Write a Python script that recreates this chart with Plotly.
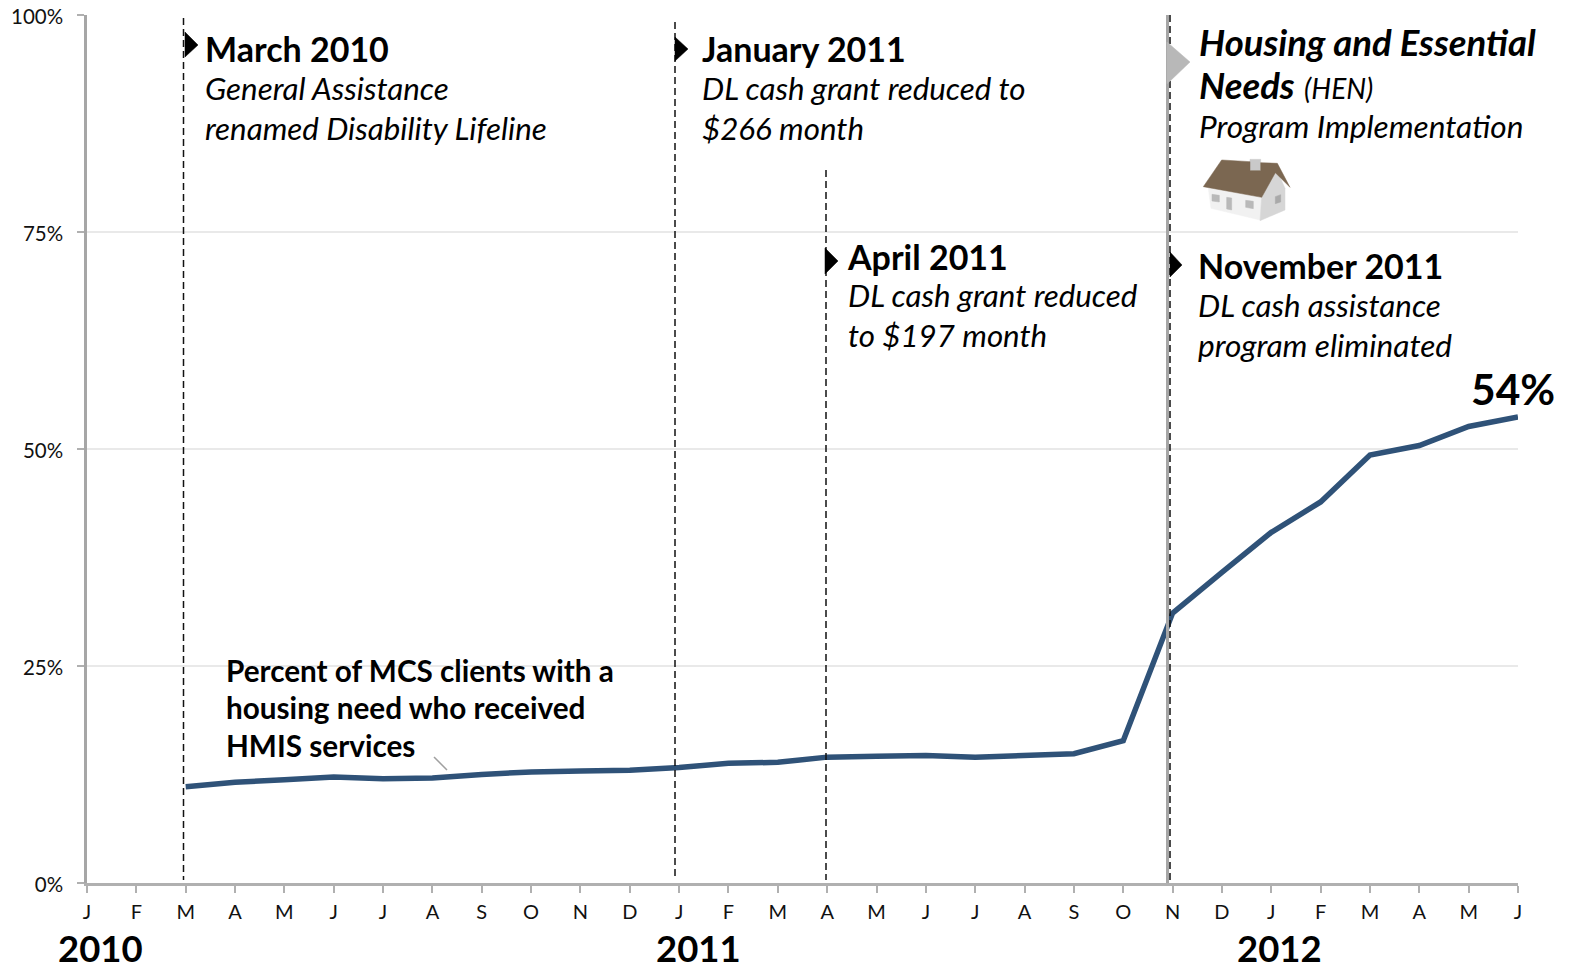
import plotly.graph_objects as go

W, H = 1569, 969
L, R, T, B = 87, 1518, 15, 883

month_labels = list("JFMAMJJASOND") + list("JFMAMJJASOND") + list("JFMAMJ")
month_index = list(range(len(month_labels)))
series_months = month_index[2:]
series_values = [11.1, 11.6, 11.9, 12.2, 12.0, 12.1, 12.5, 12.8, 12.9, 13.0,
                 13.3, 13.8, 13.9, 14.5, 14.6, 14.7, 14.5, 14.7, 14.9, 16.4,
                 31.1, 35.8, 40.4, 43.9, 49.3, 50.4, 52.6, 53.7]
y_ticks = [0, 25, 50, 75, 100]
y_labels = ["0%", "25%", "50%", "75%", "100%"]

FONT = "Lato"
LINE = "#2F5278"


def px(x):
    return (x - L) / (R - L)


def py(y):
    return (B - y) / (B - T)


def poly(points, fill, line=None, layer="above"):
    d = "M " + " L ".join(f"{px(x):.5f} {py(y):.5f}" for x, y in points) + " Z"
    return dict(type="path", xref="paper", yref="paper", path=d, fillcolor=fill,
                line=dict(color=line or fill, width=0.5), layer=layer)


def vline(x, y0, y1, color="#111111", width=1.5, dash="7px,4px"):
    return dict(type="line", xref="paper", yref="paper", x0=px(x), x1=px(x), y0=py(y0), y1=py(y1),
                line=dict(color=color, width=width, dash=dash), layer="above")


def zh(X, Y):  # house artwork sketched in local coordinates
    return (1150 + X / 3, Y / 3)


shapes = [
    vline(1167.5, 15, 883, color="#A6A6A6", width=3, dash="solid"),
    vline(183.5, 18, 880), vline(675, 22, 880), vline(826, 170, 880), vline(1170, 15, 880),
    poly([(1167, 42), (1190, 62), (1167, 84)], "#B8B8B8"),
    poly([(185, 32), (198, 45), (185, 57)], "#000000"),
    poly([(675, 37), (688, 49), (675, 61)], "#000000"),
    poly([(825, 248), (838, 261), (825, 274)], "#000000"),
    poly([(1170, 252), (1182, 265), (1170, 277)], "#000000"),
    dict(type="line", xref="paper", yref="paper", x0=px(434), x1=px(447), y0=py(757), y1=py(770),
         line=dict(color="#A0A0A0", width=1.5), layer="above"),
    # house
    poly([zh(300, 478), zh(332, 478), zh(332, 514), zh(300, 514)], "#C9C9C9"),
    poly([zh(175, 565), zh(335, 592), zh(330, 660), zh(183, 625)], "#F1F1F1"),
    poly([zh(335, 592), zh(376, 500), zh(405, 565), zh(405, 630), zh(330, 662)], "#D6D6D6"),
    poly([zh(160, 560), zh(215, 480), zh(300, 485), zh(300, 512), zh(332, 512), zh(332, 488),
          zh(382, 490), zh(420, 562), zh(376, 518), zh(335, 592)], "#7B6751"),
    poly([zh(186, 583), zh(208, 586), zh(208, 606), zh(186, 603)], "#B9B9B9"),
    poly([zh(230, 592), zh(245, 594), zh(245, 630), zh(230, 627)], "#B9B9B9"),
    poly([zh(287, 601), zh(310, 604), zh(310, 626), zh(287, 622)], "#B9B9B9"),
    poly([zh(376, 590), zh(392, 584), zh(392, 606), zh(376, 611)], "#A9A9A9"),
]

HEAD, BODY = 34, 31.3
texts = [
    ("<b>March 2010</b>", 202.5, 48, HEAD), ("<i>General Assistance</i>", 203, 88, BODY),
    ("<i>renamed Disability Lifeline</i>", 203, 128, BODY),
    ("<b>January 2011</b>", 700, 48, HEAD), ("<i>DL cash grant reduced to</i>", 700, 88, BODY),
    ("<i>$266 month</i>", 700, 128, BODY),
    ("<b>April 2011</b>", 845, 256, HEAD), ("<i>DL cash grant reduced</i>", 846, 295, BODY),
    ("<i>to $197 month</i>", 846, 335, BODY),
    ("<b><i>Housing and Essential</i></b>", 1197, 42, 36.5),
    ("<b><i>Needs</i></b> <i><span style='font-size:28px'>(HEN)</span></i>", 1197, 85, 36.5),
    ("<i>Program Implementation</i>", 1197, 126, 31.6),
    ("<b>November 2011</b>", 1196, 265, HEAD), ("<i>DL cash assistance</i>", 1196, 305, BODY),
    ("<i>program eliminated</i>", 1196, 345, 31.6),
    ("<b>Percent of MCS clients with a</b>", 224, 670, 29.7),
    ("<b>housing need who received</b>", 224, 707, 29.7),
    ("<b>HMIS services</b>", 224, 745, 29.7),
    ("<b>54%</b>", 1469, 389, 42.5),
    ("<b>2010</b>", 56, 947.5, 36.5), ("<b>2011</b>", 654, 947.5, 36.5), ("<b>2012</b>", 1235, 947.5, 36.5),
]
annotations = [dict(text=t, xref="paper", yref="paper", x=px(x), y=py(y), xanchor="left", yanchor="middle",
                    showarrow=False, align="left", font=dict(family=FONT, size=s, color="#000000"))
               for t, x, y, s in texts]

fig = go.Figure(go.Scatter(x=series_months, y=series_values, mode="lines", cliponaxis=False,
                           line=dict(color=LINE, width=5.5, shape="linear"), hoverinfo="skip",
                           showlegend=False))
fig.update_layout(
    width=W, height=H, autosize=False, plot_bgcolor="white", paper_bgcolor="white",
    margin=dict(l=L, r=W - R, t=T, b=H - B, pad=0),
    font=dict(family=FONT, color="#111111"),
    shapes=shapes, annotations=annotations, showlegend=False,
    xaxis=dict(range=[0, 29], tickmode="array", tickvals=month_index, ticktext=month_labels, automargin=False,
               showgrid=False, zeroline=False, showline=True, linecolor="#B0B0B0", linewidth=2.5,
               ticks="outside", ticklen=7, tickwidth=1.5, tickcolor="#B0B0B0", ticklabelstandoff=2,
               tickfont=dict(size=20, family=FONT, color="#111111")),
    yaxis=dict(range=[0, 100], tickmode="array", tickvals=y_ticks, ticktext=y_labels, automargin=False,
               showgrid=True, gridcolor="#E9E9E9", gridwidth=1.5, zeroline=False,
               showline=True, linecolor="#A6A6A6", linewidth=2.5,
               ticks="outside", ticklen=7, tickwidth=1.5, tickcolor="#B0B0B0", ticklabelstandoff=10,
               ticklabelshift=2,
               tickfont=dict(size=20.5, family=FONT, color="#111111")),
)
fig.write_html("out.html", post_script="document.body.style.margin='0';document.documentElement.style.overflow='hidden';",
               config=dict(displayModeBar=False))
